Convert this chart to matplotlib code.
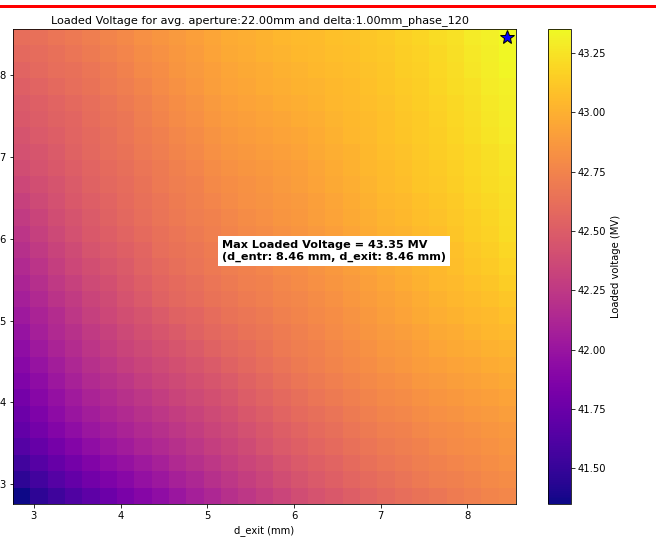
import numpy as np
import matplotlib
matplotlib.use('Agg')
import matplotlib.pyplot as plt
from matplotlib.lines import Line2D

# Grid of entrance / exit iris offsets (mm)
d_exit = [2.86, 3.06, 3.26, 3.46, 3.66, 3.86, 4.06, 4.26, 4.46, 4.66,
          4.86, 5.06, 5.26, 5.46, 5.66, 5.86, 6.06, 6.26, 6.46, 6.66,
          6.86, 7.06, 7.26, 7.46, 7.66, 7.86, 8.06, 8.26, 8.46]
d_entr = [2.86, 3.06, 3.26, 3.46, 3.66, 3.86, 4.06, 4.26, 4.46, 4.66,
          4.86, 5.06, 5.26, 5.46, 5.66, 5.86, 6.06, 6.26, 6.46, 6.66,
          6.86, 7.06, 7.26, 7.46, 7.66, 7.86, 8.06, 8.26, 8.46]

# Loaded voltage (MV), one row per d_entr value, columns follow d_exit
loaded_voltage = [
    [41.35, 41.46, 41.54, 41.62, 41.69, 41.76, 41.83, 41.89, 41.95, 42.01, 42.07, 42.13, 42.19, 42.24, 42.29, 42.34, 42.39, 42.43, 42.47, 42.51, 42.55, 42.58, 42.61, 42.64, 42.67, 42.70, 42.72, 42.75, 42.77],
    [41.46, 41.56, 41.64, 41.72, 41.79, 41.85, 41.91, 41.97, 42.02, 42.08, 42.13, 42.19, 42.24, 42.29, 42.34, 42.39, 42.44, 42.48, 42.52, 42.56, 42.59, 42.62, 42.65, 42.68, 42.71, 42.73, 42.75, 42.78, 42.80],
    [41.55, 41.65, 41.73, 41.80, 41.87, 41.93, 41.98, 42.03, 42.08, 42.14, 42.19, 42.24, 42.29, 42.34, 42.38, 42.43, 42.48, 42.52, 42.55, 42.59, 42.63, 42.66, 42.68, 42.71, 42.74, 42.76, 42.78, 42.81, 42.83],
    [41.64, 41.73, 41.81, 41.88, 41.95, 42.00, 42.05, 42.10, 42.14, 42.19, 42.24, 42.29, 42.33, 42.38, 42.43, 42.48, 42.52, 42.56, 42.59, 42.63, 42.66, 42.69, 42.71, 42.74, 42.77, 42.79, 42.81, 42.83, 42.85],
    [41.71, 41.80, 41.88, 41.95, 42.01, 42.06, 42.10, 42.15, 42.19, 42.24, 42.28, 42.33, 42.37, 42.42, 42.46, 42.51, 42.55, 42.59, 42.62, 42.66, 42.69, 42.72, 42.74, 42.77, 42.79, 42.81, 42.83, 42.85, 42.87],
    [41.76, 41.85, 41.93, 42.00, 42.06, 42.11, 42.15, 42.20, 42.24, 42.28, 42.32, 42.37, 42.41, 42.46, 42.50, 42.55, 42.59, 42.62, 42.65, 42.69, 42.72, 42.75, 42.77, 42.80, 42.82, 42.84, 42.86, 42.88, 42.90],
    [41.81, 41.90, 41.97, 42.04, 42.10, 42.15, 42.20, 42.24, 42.28, 42.33, 42.37, 42.41, 42.45, 42.50, 42.54, 42.58, 42.62, 42.66, 42.69, 42.72, 42.75, 42.78, 42.80, 42.83, 42.85, 42.87, 42.89, 42.91, 42.93],
    [41.86, 41.94, 42.02, 42.09, 42.15, 42.20, 42.24, 42.29, 42.33, 42.37, 42.41, 42.45, 42.49, 42.53, 42.57, 42.62, 42.66, 42.69, 42.72, 42.75, 42.78, 42.81, 42.83, 42.86, 42.88, 42.90, 42.92, 42.94, 42.96],
    [41.91, 41.99, 42.06, 42.13, 42.19, 42.24, 42.29, 42.33, 42.37, 42.41, 42.45, 42.49, 42.53, 42.57, 42.61, 42.65, 42.69, 42.72, 42.75, 42.78, 42.81, 42.84, 42.86, 42.89, 42.91, 42.93, 42.95, 42.97, 42.99],
    [41.95, 42.03, 42.10, 42.17, 42.23, 42.28, 42.33, 42.37, 42.41, 42.45, 42.49, 42.53, 42.57, 42.60, 42.64, 42.68, 42.71, 42.74, 42.77, 42.80, 42.83, 42.86, 42.88, 42.91, 42.94, 42.96, 42.98, 43.00, 43.02],
    [41.99, 42.07, 42.14, 42.20, 42.26, 42.31, 42.36, 42.41, 42.45, 42.49, 42.53, 42.57, 42.60, 42.64, 42.67, 42.70, 42.73, 42.76, 42.79, 42.82, 42.85, 42.88, 42.90, 42.93, 42.96, 42.98, 43.01, 43.03, 43.05],
    [42.03, 42.10, 42.17, 42.24, 42.30, 42.35, 42.40, 42.44, 42.49, 42.53, 42.56, 42.60, 42.64, 42.67, 42.69, 42.73, 42.75, 42.78, 42.81, 42.84, 42.87, 42.90, 42.93, 42.96, 42.99, 43.01, 43.03, 43.05, 43.08],
    [42.07, 42.14, 42.21, 42.27, 42.33, 42.38, 42.43, 42.48, 42.53, 42.57, 42.60, 42.64, 42.67, 42.70, 42.72, 42.75, 42.77, 42.80, 42.83, 42.86, 42.89, 42.92, 42.95, 42.98, 43.01, 43.03, 43.06, 43.08, 43.11],
    [42.11, 42.18, 42.25, 42.31, 42.37, 42.41, 42.46, 42.51, 42.56, 42.59, 42.62, 42.66, 42.69, 42.72, 42.74, 42.77, 42.79, 42.82, 42.85, 42.88, 42.91, 42.94, 42.97, 43.00, 43.03, 43.05, 43.08, 43.10, 43.14],
    [42.15, 42.22, 42.29, 42.35, 42.40, 42.45, 42.49, 42.54, 42.58, 42.62, 42.65, 42.68, 42.71, 42.74, 42.76, 42.79, 42.81, 42.84, 42.87, 42.90, 42.93, 42.96, 42.99, 43.02, 43.04, 43.07, 43.10, 43.13, 43.17],
    [42.19, 42.26, 42.32, 42.38, 42.44, 42.48, 42.52, 42.56, 42.61, 42.64, 42.67, 42.70, 42.73, 42.76, 42.78, 42.81, 42.83, 42.86, 42.89, 42.92, 42.95, 42.98, 43.00, 43.03, 43.06, 43.08, 43.12, 43.15, 43.19],
    [42.23, 42.30, 42.36, 42.42, 42.47, 42.51, 42.55, 42.59, 42.63, 42.66, 42.69, 42.72, 42.75, 42.78, 42.80, 42.83, 42.85, 42.88, 42.91, 42.94, 42.97, 43.00, 43.02, 43.05, 43.07, 43.10, 43.14, 43.17, 43.21],
    [42.27, 42.33, 42.39, 42.44, 42.49, 42.53, 42.57, 42.61, 42.65, 42.68, 42.71, 42.74, 42.77, 42.80, 42.82, 42.85, 42.87, 42.90, 42.93, 42.96, 42.99, 43.02, 43.04, 43.07, 43.09, 43.12, 43.15, 43.18, 43.22],
    [42.31, 42.37, 42.42, 42.47, 42.51, 42.55, 42.59, 42.63, 42.66, 42.70, 42.73, 42.76, 42.79, 42.82, 42.84, 42.86, 42.88, 42.91, 42.94, 42.97, 43.00, 43.03, 43.05, 43.08, 43.10, 43.13, 43.17, 43.20, 43.23],
    [42.35, 42.40, 42.44, 42.49, 42.53, 42.57, 42.60, 42.64, 42.68, 42.71, 42.74, 42.78, 42.81, 42.83, 42.85, 42.88, 42.90, 42.93, 42.96, 42.99, 43.02, 43.05, 43.07, 43.10, 43.12, 43.15, 43.18, 43.21, 43.24],
    [42.39, 42.43, 42.47, 42.51, 42.55, 42.59, 42.62, 42.66, 42.69, 42.73, 42.76, 42.80, 42.83, 42.85, 42.87, 42.89, 42.91, 42.94, 42.97, 43.00, 43.03, 43.06, 43.08, 43.11, 43.13, 43.16, 43.19, 43.22, 43.25],
    [42.42, 42.45, 42.49, 42.53, 42.57, 42.61, 42.64, 42.68, 42.71, 42.75, 42.78, 42.82, 42.85, 42.87, 42.89, 42.91, 42.93, 42.96, 42.99, 43.01, 43.04, 43.07, 43.09, 43.12, 43.14, 43.17, 43.20, 43.23, 43.26],
    [42.44, 42.48, 42.51, 42.55, 42.58, 42.62, 42.66, 42.70, 42.73, 42.77, 42.80, 42.84, 42.87, 42.89, 42.91, 42.93, 42.95, 42.97, 43.00, 43.03, 43.05, 43.08, 43.10, 43.13, 43.15, 43.18, 43.21, 43.25, 43.28],
    [42.47, 42.50, 42.53, 42.56, 42.60, 42.64, 42.67, 42.71, 42.75, 42.79, 42.82, 42.86, 42.89, 42.91, 42.93, 42.95, 42.97, 42.99, 43.02, 43.04, 43.06, 43.08, 43.11, 43.13, 43.16, 43.19, 43.22, 43.26, 43.29],
    [42.49, 42.52, 42.55, 42.58, 42.61, 42.65, 42.69, 42.73, 42.77, 42.81, 42.84, 42.88, 42.91, 42.93, 42.95, 42.97, 42.99, 43.01, 43.03, 43.05, 43.07, 43.09, 43.12, 43.14, 43.17, 43.20, 43.23, 43.27, 43.30],
    [42.52, 42.55, 42.58, 42.61, 42.64, 42.68, 42.71, 42.75, 42.79, 42.83, 42.86, 42.90, 42.93, 42.95, 42.97, 42.99, 43.01, 43.02, 43.04, 43.06, 43.08, 43.10, 43.13, 43.15, 43.18, 43.21, 43.24, 43.28, 43.31],
    [42.55, 42.58, 42.61, 42.63, 42.66, 42.70, 42.74, 42.78, 42.81, 42.85, 42.88, 42.91, 42.94, 42.96, 42.98, 43.00, 43.02, 43.04, 43.06, 43.07, 43.09, 43.11, 43.14, 43.16, 43.19, 43.22, 43.26, 43.29, 43.33],
    [42.58, 42.60, 42.63, 42.66, 42.69, 42.73, 42.76, 42.80, 42.83, 42.86, 42.89, 42.93, 42.96, 42.98, 43.00, 43.02, 43.04, 43.05, 43.07, 43.08, 43.10, 43.12, 43.15, 43.17, 43.20, 43.23, 43.27, 43.30, 43.34],
    [42.61, 42.63, 42.66, 42.68, 42.71, 42.75, 42.78, 42.82, 42.85, 42.88, 42.91, 42.94, 42.97, 42.99, 43.01, 43.03, 43.05, 43.06, 43.08, 43.09, 43.11, 43.13, 43.16, 43.18, 43.21, 43.24, 43.28, 43.31, 43.35],
]

aperture = 22.00
delta = 1.00
phase = 120

V = np.array(loaded_voltage)
j_max, i_max = np.unravel_index(np.argmax(V), V.shape)
v_max = V[j_max, i_max]

fig = plt.figure(figsize=(656 / 72, 537 / 72), dpi=72)
ax = fig.add_axes([13 / 656, 1 - 504 / 537, 503 / 656, 475 / 537])
cax = fig.add_axes([548 / 656, 1 - 504 / 537, 23 / 656, 475 / 537])

mesh = ax.pcolormesh(d_exit, d_entr, V, cmap='plasma', shading='nearest')
cb = fig.colorbar(mesh, cax=cax)
cb.set_label('Loaded voltage (MV)')

# mark the best working point
ax.plot(d_exit[i_max], d_entr[j_max], marker='*', color='blue',
        markeredgecolor='black', markersize=15, linestyle='none')
ax.text(5.17, 5.85,
        f'Max Loaded Voltage = {v_max:.2f} MV\n'
        f'(d_entr: {d_entr[j_max]:.2f} mm, d_exit: {d_exit[i_max]:.2f} mm)',
        fontsize=11.3, fontweight='bold', va='center', ha='left',
        bbox=dict(facecolor='white', edgecolor='none', pad=4))

ax.set_xlabel('d_exit (mm)')
ax.set_title(f'Loaded Voltage for avg. aperture:{aperture:.2f}mm and '
             f'delta:{delta:.2f}mm_phase_{phase}', fontsize=11.25, x=0.492)

# red separator line along the top
fig.add_artist(Line2D([0, 1], [1 - 5.5 / 537, 1 - 5.5 / 537],
                      transform=fig.transFigure, color='red', linewidth=3))

fig.savefig('out.png', dpi=72)
